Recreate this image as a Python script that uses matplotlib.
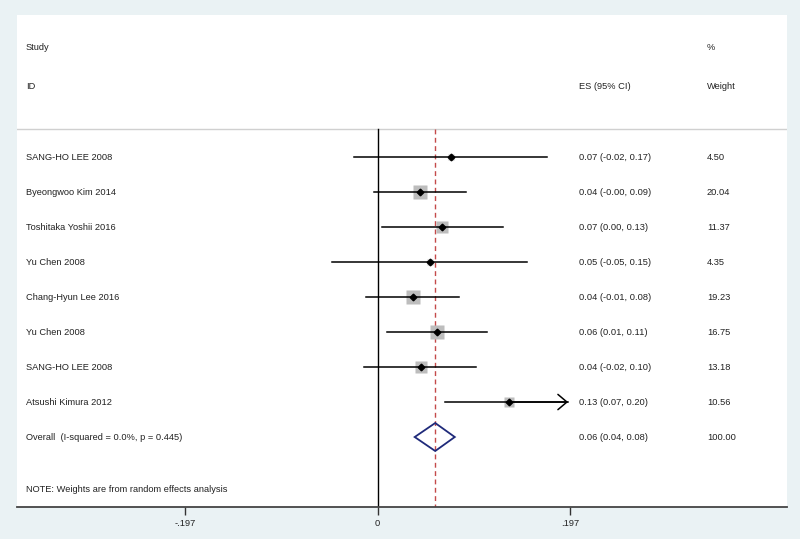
import matplotlib
matplotlib.use("Agg")
import matplotlib.pyplot as plt
import matplotlib.transforms as mtransforms
import numpy as np

plt.rcParams['font.family'] = ['Liberation Sans', 'DejaVu Sans']

# study data
studies = ["SANG-HO LEE 2008", "Byeongwoo Kim 2014", "Toshitaka Yoshii 2016",
           "Yu Chen 2008", "Chang-Hyun Lee 2016", "Yu Chen 2008",
           "SANG-HO LEE 2008", "Atsushi Kimura 2012"]
es = [0.075, 0.043, 0.066, 0.054, 0.036, 0.061, 0.044, 0.134]
lower = [-0.024, -0.004, 0.005, -0.047, -0.012, 0.010, -0.014, 0.069]
upper = [0.173, 0.090, 0.128, 0.153, 0.083, 0.112, 0.101, 0.200]
weights = [4.50, 20.04, 11.37, 4.35, 19.23, 16.75, 13.18, 10.56]
es_text = ["0.07 (-0.02, 0.17)", "0.04 (-0.00, 0.09)", "0.07 (0.00, 0.13)",
           "0.05 (-0.05, 0.15)", "0.04 (-0.01, 0.08)", "0.06 (0.01, 0.11)",
           "0.04 (-0.02, 0.10)", "0.13 (0.07, 0.20)"]
weight_text = ["4.50", "20.04", "11.37", "4.35", "19.23", "16.75", "13.18", "10.56"]

overall_es, overall_lo, overall_hi = 0.059, 0.038, 0.079
overall_label = "Overall  (I-squared = 0.0%, p = 0.445)"
overall_es_text = "0.06 (0.04, 0.08)"
overall_weight_text = "100.00"
note = "NOTE: Weights are from random effects analysis"

xticks = [-0.197, 0, 0.197]
xticklabels = ["-.197", "0", ".197"]
clip = 0.195

fs = 6.7
fig = plt.figure(figsize=(8, 5.39), dpi=100, facecolor='#eaf2f4')
ax = fig.add_axes([17 / 800, 32 / 539, 770 / 800, 492 / 539])
ax.set_facecolor('white')
ax.set_xlim(-0.369, 0.419)
ax.set_ylim(10.0, -4.06)

trans = mtransforms.blended_transform_factory(ax.transAxes, ax.transData)
col_study, col_es, col_w = 0.0117, 0.730, 0.896
txt = dict(transform=trans, fontsize=fs, va='center', color='#222222')

# headers
ax.text(col_study, -3.14, "Study", **txt)
ax.text(col_study, -2.03, "ID", **txt)
ax.text(col_es, -2.03, "ES (95% CI)", **txt)
ax.text(col_w, -3.14, "%", **txt)
ax.text(col_w, -2.03, "Weight", **txt)
ax.axhline(-0.8, color='#d0d0d0', lw=1.0)

# reference lines
ax.plot([0, 0], [-0.8, 10.0], color='black', lw=1.0, zorder=2)
ax.plot([overall_es, overall_es], [-0.8, 10.0], color='#c44a4a', lw=1.0,
        ls=(0, (3.5, 2.5)), zorder=2)

rows = np.arange(len(studies))
for i in rows:
    lo = max(lower[i], -clip)
    hi = min(upper[i], clip)
    ax.plot(es[i], i, marker='s', ms=2.35 * np.sqrt(weights[i]), color='#bdbdbd',
            mec='none', zorder=3)
    ax.plot([lo, hi], [i, i], color='black', lw=1.1, zorder=4)
    if upper[i] > clip:
        ax.annotate("", xy=(hi, i), xytext=(es[i], i),
                    arrowprops=dict(arrowstyle='->, head_length=0.65, head_width=0.55',
                                    color='black', lw=1.1, mutation_scale=10,
                                    shrinkA=0, shrinkB=0), zorder=4)
    ax.plot(es[i], i, marker='D', ms=3.4, color='black', zorder=5)
    ax.text(col_study, i, studies[i], **txt)
    ax.text(col_es, i, es_text[i], **txt)
    ax.text(col_w, i, weight_text[i], **txt)

# overall diamond
yo = len(studies)
ax.fill([overall_lo, overall_es, overall_hi, overall_es],
        [yo, yo - 0.4, yo, yo + 0.4], facecolor='none', edgecolor='#1f2a7a',
        lw=1.3, zorder=5)
ax.text(col_study, yo, overall_label, **txt)
ax.text(col_es, yo, overall_es_text, **txt)
ax.text(col_w, yo, overall_weight_text, **txt)

ax.text(col_study, 9.51, note, **txt)

for side in ['top', 'left', 'right']:
    ax.spines[side].set_visible(False)
ax.spines['bottom'].set_color('#444444')
ax.spines['bottom'].set_linewidth(1.3)
ax.set_yticks([])
ax.set_xticks(xticks)
ax.set_xticklabels(xticklabels, fontsize=fs, color='#222222')
ax.tick_params(axis='x', length=6, width=1, color='#333333', pad=3)

fig.savefig("out.png", dpi=100, facecolor=fig.get_facecolor())
